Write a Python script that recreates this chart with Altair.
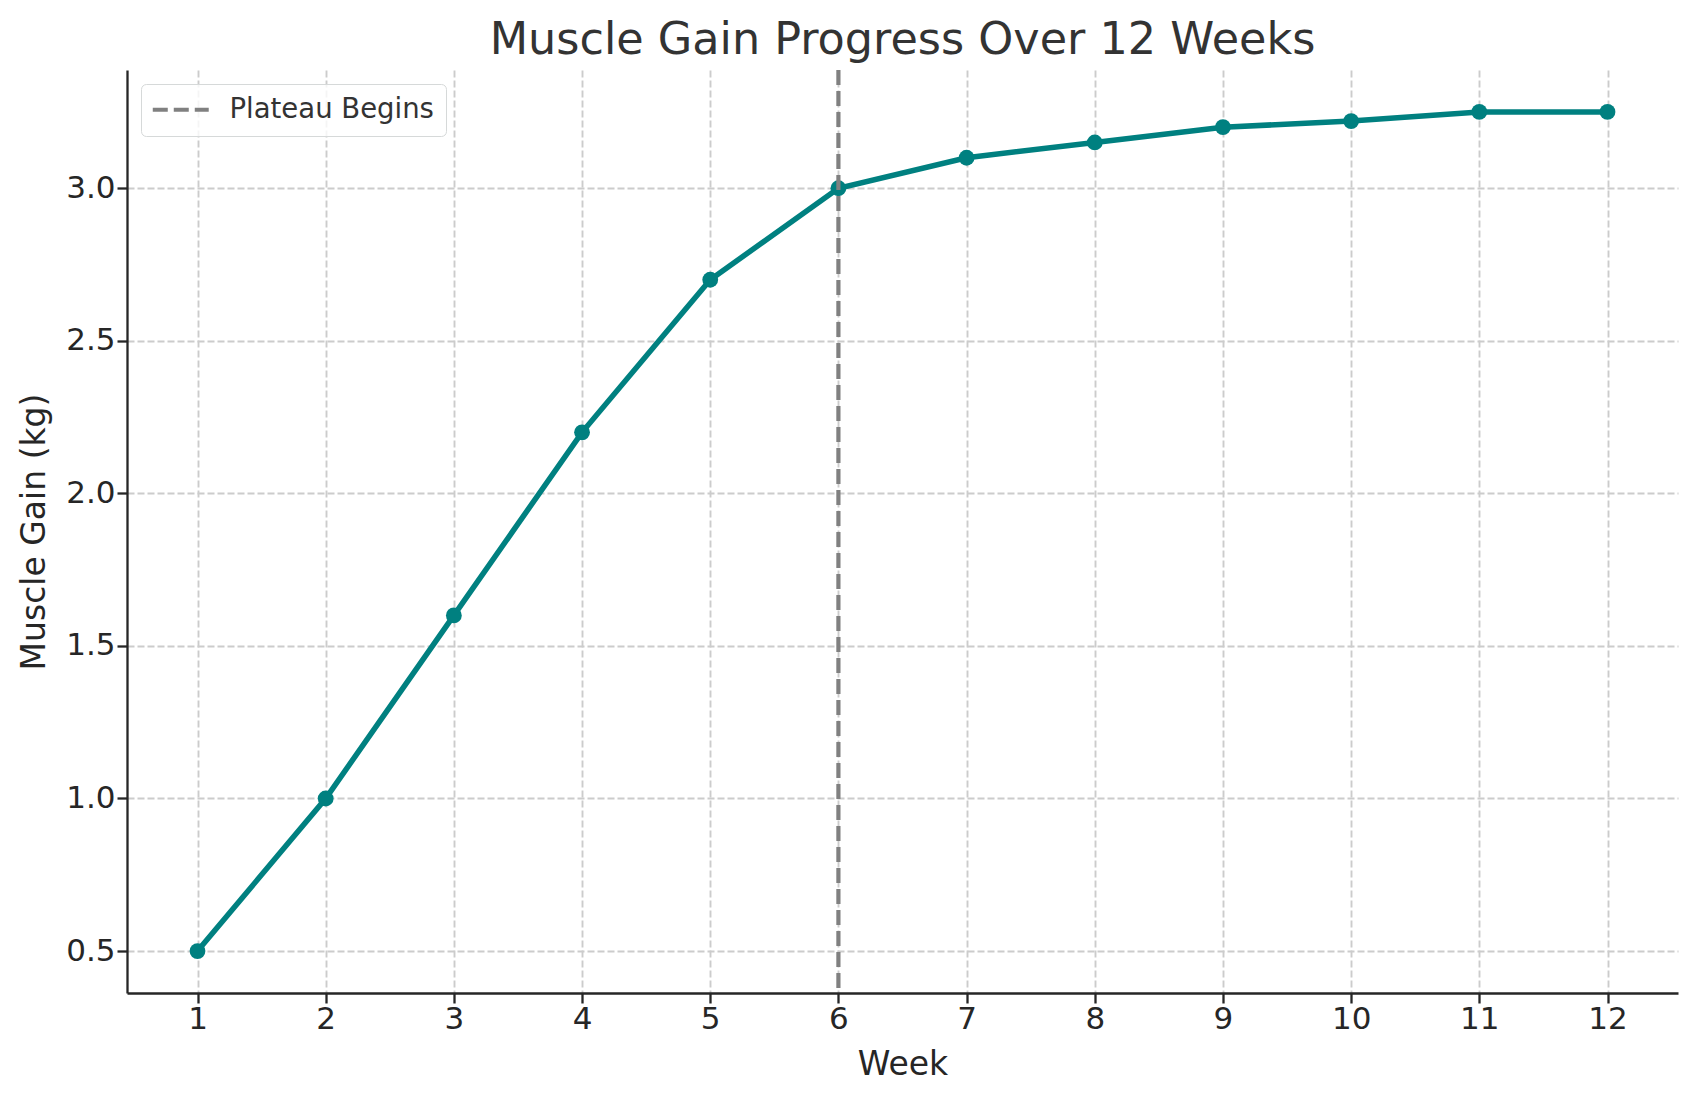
import altair as alt
import pandas as pd

weeks = [1, 2, 3, 4, 5, 6, 7, 8, 9, 10, 11, 12]
gain = [0.5, 1.0, 1.6, 2.2, 2.7, 3.0, 3.1, 3.15, 3.2, 3.22, 3.25, 3.25]
plateau_week = [6]
plateau_label = ["Plateau Begins"]
x_ticks = [1, 2, 3, 4, 5, 6, 7, 8, 9, 10, 11, 12]
y_ticks = [0.5, 1.0, 1.5, 2.0, 2.5, 3.0]

df = pd.DataFrame({"Week": weeks, "Gain": gain})
vdf = pd.DataFrame({"Week": plateau_week, "label": plateau_label})

FONT = "DejaVu Sans"
TEAL = "#008080"

x = alt.X(
    "Week:Q",
    scale=alt.Scale(domain=[0.45, 12.55], nice=False, zero=False),
    axis=alt.Axis(values=x_ticks, title="Week", format="d", labelPadding=1, titlePadding=14),
)
y = alt.Y(
    "Gain:Q",
    scale=alt.Scale(domain=[0.3625, 3.3875], nice=False, zero=False),
    axis=alt.Axis(values=y_ticks, format=".1f", title="Muscle Gain (kg)", labelPadding=2, titlePadding=14),
)

line = alt.Chart(df).mark_line(color=TEAL, strokeWidth=5.5).encode(x=x, y=y)
pts = alt.Chart(df).mark_circle(size=250, color=TEAL, opacity=1).encode(x=x, y=y)
vline = alt.Chart(vdf).mark_rule(strokeWidth=4.2, strokeDash=[15, 6]).encode(
    x=alt.X("Week:Q"),
    color=alt.Color(
        "label:N",
        scale=alt.Scale(domain=plateau_label, range=["#808080"]),
        legend=alt.Legend(
            title=None,
            orient="none",
            legendX=14,
            legendY=14,
            padding=12,
            cornerRadius=5,
            strokeColor="#d6d9d9",
            fillColor="rgba(255,255,255,0.8)",
            symbolType="M-3,0H3",
            symbolSize=348,
            symbolOffset=14,
            symbolStrokeWidth=4.2,
            symbolDash=[15, 6],
            labelFont=FONT,
            labelFontSize=27.5,
            labelColor="#333333",
            labelOffset=35,
            labelLimit=500,
        ),
    ),
)

chart = (
    alt.layer(line, pts, vline)
    .properties(
        width=1551,
        height=923,
        autosize=alt.AutoSizeParams(type="none"),
        padding={"left": 119, "top": 62, "right": 11, "bottom": 100},
        title=alt.TitleParams(
            "Muscle Gain Progress Over 12 Weeks",
            fontSize=44.5,
            font=FONT,
            color="#333333",
            fontWeight="normal",
            anchor="middle",
            frame="group",
            offset=4,
        ),
    )
    .configure_view(stroke=None)
    .configure_axis(
        domainColor="#262626",
        domainWidth=2.3,
        tickColor="#262626",
        tickWidth=2.3,
        tickSize=10,
        labelFont=FONT,
        labelFontSize=31,
        labelColor="#262626",
        titleFont=FONT,
        titleFontSize=33,
        titleFontWeight="normal",
        titleColor="#262626",
        gridColor="#cccccc",
        gridDash=[7, 3],
        gridWidth=1.9,
    )
)

chart.save("out.html", embed_options={"renderer": "svg", "actions": False})
